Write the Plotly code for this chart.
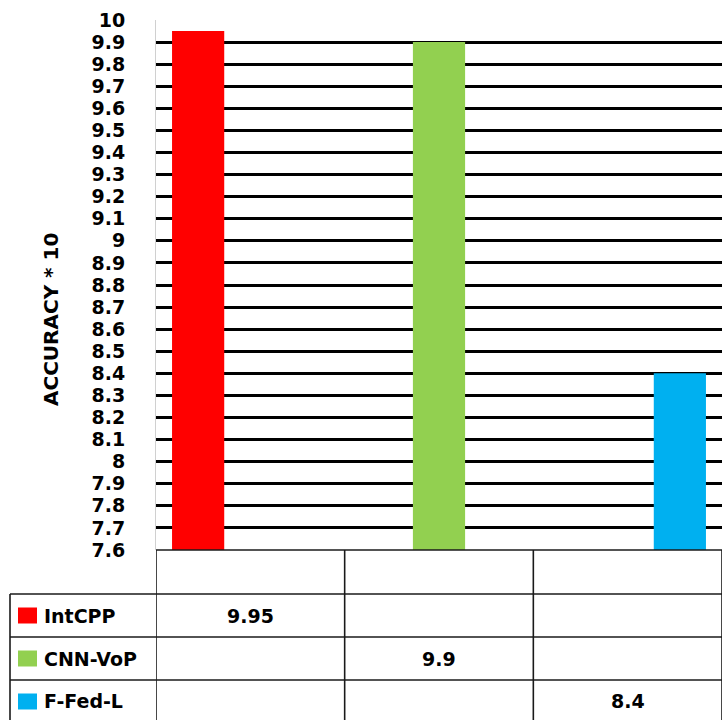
import plotly.graph_objects as go

# Data
series = ["IntCPP", "CNN-VoP", "F-Fed-L"]
values = [9.95, 9.9, 8.4]
colors = ["#FF0000", "#92D050", "#00B0F0"]
categories = ["c1", "c2", "c3"]
y_ticks = [round(7.6 + 0.1 * i, 1) for i in range(25)]
y_tick_labels = [("%g" % v) for v in y_ticks]

W, H = 724, 720
L, R, T, B = 156, 2, 20, 170
plot_w = W - L - R
plot_h = H - T - B
FONT = "DejaVu Sans"


def py(pix):
    """pixel row -> paper y"""
    return (H - B - pix) / plot_h


def px(pix):
    """pixel column -> paper x"""
    return (pix - L) / plot_w


fig = go.Figure()
for i, (name, val, col) in enumerate(zip(series, values, colors)):
    # every series shares the category axis; it only has a value in its own slot
    ys = [val if j == i else None for j in range(len(categories))]
    fig.add_trace(go.Bar(
        name=name,
        x=categories,
        y=ys,
        marker=dict(color=col, line=dict(width=0)),
        showlegend=False,
    ))

shapes = []
line = dict(color="#1a1a1a", width=1.6)

# data table grid: columns follow the category axis
n = len(categories)
for k in range(n + 1):
    shapes.append(dict(type="line", xref="x", yref="paper",
                       x0=k - 0.5, x1=k - 0.5, y0=py(550), y1=py(722), line=line))
# legend column left border
shapes.append(dict(type="line", xref="paper", yref="paper",
                   x0=px(10), x1=px(10), y0=py(594), y1=py(722), line=line))
# header row top
shapes.append(dict(type="line", xref="paper", yref="paper",
                   x0=0, x1=1, y0=py(550), y1=py(550), line=line))
# row separators
row_tops = [594, 637, 680]
for yy in row_tops:
    shapes.append(dict(type="line", xref="paper", yref="paper",
                       x0=px(10), x1=1, y0=py(yy), y1=py(yy), line=line))

annotations = []
row_h = 43
bold_cell = dict(family=FONT, size=19, color="#000", weight="bold")
for i, (name, val, col) in enumerate(zip(series, values, colors)):
    yc = row_tops[i] + row_h / 2
    # legend key square
    shapes.append(dict(type="rect", xref="paper", yref="paper",
                       x0=px(18), x1=px(37), y0=py(yc - 8), y1=py(yc + 8),
                       fillcolor=col, line=dict(width=0)))
    annotations.append(dict(xref="paper", yref="paper", x=px(42), y=py(yc),
                            text=name, showarrow=False, xanchor="left", yanchor="middle",
                            font=bold_cell))
    annotations.append(dict(xref="x", yref="paper", x=categories[i], y=py(yc),
                            text="%g" % val, showarrow=False, xanchor="center", yanchor="middle",
                            font=bold_cell))

# y axis title
annotations.append(dict(xref="paper", yref="paper", x=px(51), y=py(319),
                        text="ACCURACY * 10", showarrow=False, textangle=-90,
                        xanchor="center", yanchor="middle",
                        font=dict(family=FONT, size=20, color="#000", weight="bold")))

fig.update_layout(
    width=W, height=H,
    margin=dict(l=L, r=R, t=T, b=B),
    paper_bgcolor="white", plot_bgcolor="white",
    barmode="group", bargap=0.17, bargroupgap=0,
    shapes=shapes, annotations=annotations,
    font=dict(family=FONT, color="#000"),
)
fig.update_xaxes(categoryorder="array", categoryarray=categories,
                 showticklabels=False, showgrid=False, zeroline=False,
                 showline=False, range=[-0.5, n - 0.5])
fig.update_yaxes(range=[7.6, 10], tickvals=y_ticks, ticktext=y_tick_labels,
                 showgrid=True, gridcolor="#000", gridwidth=3,
                 zeroline=False, showline=True, linecolor="#d0d0d0", linewidth=1,
                 ticks="", ticklabelstandoff=26,
                 tickfont=dict(family=FONT, size=19, color="#000", weight="bold"))

fig.write_html("out.html")
